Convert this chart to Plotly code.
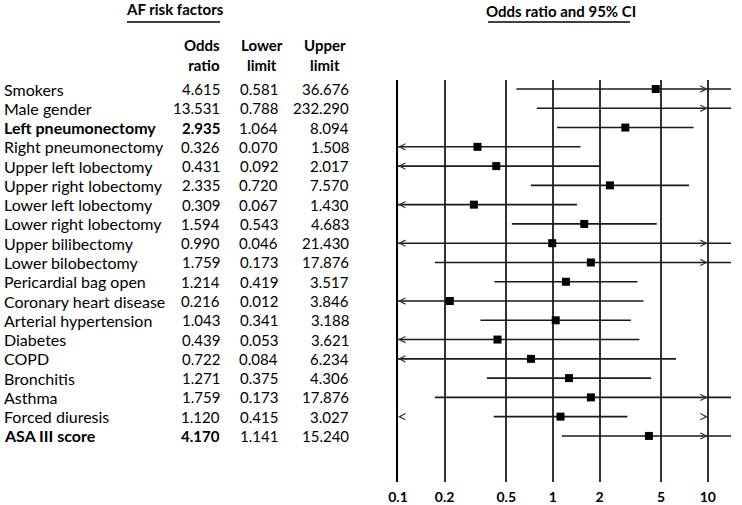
import numpy as np
import plotly.graph_objects as go

# ---------------- data ----------------
factors = ["Smokers", "Male gender", "Left pneumonectomy", "Right pneumonectomy",
           "Upper left lobectomy", "Upper right lobectomy", "Lower left lobectomy",
           "Lower right lobectomy", "Upper bilibectomy", "Lower bilobectomy",
           "Pericardial bag open", "Coronary heart disease", "Arterial hypertension",
           "Diabetes", "COPD", "Bronchitis", "Asthma", "Forced diuresis", "ASA III score"]
odds_ratio = [4.615, 13.531, 2.935, 0.326, 0.431, 2.335, 0.309, 1.594, 0.990, 1.759,
              1.214, 0.216, 1.043, 0.439, 0.722, 1.271, 1.759, 1.120, 4.170]
lower_limit = [0.581, 0.788, 1.064, 0.070, 0.092, 0.720, 0.067, 0.543, 0.046, 0.173,
               0.419, 0.012, 0.341, 0.053, 0.084, 0.375, 0.173, 0.415, 1.141]
upper_limit = [36.676, 232.290, 8.094, 1.508, 2.017, 7.570, 1.430, 4.683, 21.430, 17.876,
               3.517, 3.846, 3.188, 3.621, 6.234, 4.306, 17.876, 3.027, 15.240]
significant = [False, False, True, False, False, False, False, False, False, False,
               False, False, False, False, False, False, False, False, True]
arrow_left = [False, False, False, True, True, False, True, False, True, False,
              False, True, False, True, True, False, False, True, False]
arrow_right = [True, True, False, False, False, False, False, False, True, True,
               False, False, False, False, False, False, True, True, True]
tick_values = [0.1, 0.2, 0.5, 1, 2, 5, 10]
tick_labels = ["0.1", "0.2", "0.5", "1", "2", "5", "10"]
column_headers = ["Odds<br>ratio", "Lower<br>limit", "Upper<br>limit"]

# ---------------- layout constants ----------------
W, H = 742, 505
FONT = "Lato"
FS = 15
n = len(factors)
rows = list(range(n))

def px_x(p):
    return p / W

def px_y(p):
    return 1 - p / H

fig = go.Figure()

# CI lines
lx, ly = [], []
for i in rows:
    lx += [lower_limit[i], upper_limit[i], None]
    ly += [i, i, None]
fig.add_trace(go.Scatter(x=lx, y=ly, mode="lines",
                         line=dict(color="#1a1a1a", width=1.6),
                         hoverinfo="skip", showlegend=False))

# Odds-ratio squares (only those within the labelled axis span)
sx = [odds_ratio[i] for i in rows if odds_ratio[i] <= tick_values[-1]]
sy = [i for i in rows if odds_ratio[i] <= tick_values[-1]]
fig.add_trace(go.Scatter(x=sx, y=sy, mode="markers",
                         marker=dict(symbol="square", color="black", size=8),
                         showlegend=False))

annotations = []
# arrow heads (open chevrons) at 0.1 and 10
for i in rows:
    if arrow_left[i]:
        annotations.append(dict(x=np.log10(tick_values[0]), y=i, xref="x", yref="y",
                                text="", showarrow=True, arrowhead=5, arrowsize=1.1,
                                arrowwidth=1.1, arrowcolor="#333", ax=4, ay=0, standoff=0))
    if arrow_right[i]:
        annotations.append(dict(x=np.log10(tick_values[-1]), y=i, xref="x", yref="y",
                                text="", showarrow=True, arrowhead=5, arrowsize=1.1,
                                arrowwidth=1.1, arrowcolor="#333", ax=-4, ay=0, standoff=0))

# left table
def b(s, flag):
    return f"<b>{s}</b>" if flag else s

for i in rows:
    annotations.append(dict(x=px_x(2), y=i, xref="paper", yref="y", text=b(factors[i], significant[i]),
                            xanchor="left", yanchor="middle", showarrow=False,
                            font=dict(family=FONT, size=16, color="black")))
    annotations.append(dict(x=px_x(222), y=i, xref="paper", yref="y",
                            text=b(f"{odds_ratio[i]:.3f}", significant[i]),
                            xanchor="right", yanchor="middle", showarrow=False,
                            font=dict(family=FONT, size=FS, color="black")))
    annotations.append(dict(x=px_x(280), y=i, xref="paper", yref="y",
                            text=f"{lower_limit[i]:.3f}",
                            xanchor="right", yanchor="middle", showarrow=False,
                            font=dict(family=FONT, size=FS, color="black")))
    annotations.append(dict(x=px_x(351), y=i, xref="paper", yref="y",
                            text=f"{upper_limit[i]:.3f}",
                            xanchor="right", yanchor="middle", showarrow=False,
                            font=dict(family=FONT, size=FS, color="black")))

# column headers
header_pos = [(222, "right"), (262, "center"), (325, "center")]
for txt, (hx, anc) in zip(column_headers, header_pos):
    annotations.append(dict(x=px_x(hx), y=px_y(55), xref="paper", yref="paper",
                            text=f"<b>{txt}</b>", xanchor=anc, yanchor="middle",
                            align=anc, showarrow=False,
                            font=dict(family=FONT, size=15, color="black")))

# panel titles
annotations.append(dict(x=px_x(175), y=px_y(9), xref="paper", yref="paper",
                        text="<b>AF risk factors</b>", xanchor="center", yanchor="middle",
                        showarrow=False, font=dict(family=FONT, size=FS, color="black")))
annotations.append(dict(x=px_x(561), y=px_y(11), xref="paper", yref="paper",
                        text="<b>Odds ratio and 95% CI</b>", xanchor="center", yanchor="middle",
                        showarrow=False, font=dict(family=FONT, size=FS, color="black")))

shapes = [
    dict(type="line", xref="paper", yref="paper", x0=px_x(127), x1=px_x(220),
         y0=px_y(22), y1=px_y(22), line=dict(color="black", width=1.5)),
    dict(type="line", xref="paper", yref="paper", x0=px_x(488), x1=px_x(630),
         y0=px_y(22), y1=px_y(22), line=dict(color="black", width=1.5)),
]

fig.update_layout(
    width=W, height=H,
    margin=dict(l=0, r=0, t=0, b=0),
    paper_bgcolor="white", plot_bgcolor="white",
    annotations=annotations, shapes=shapes,
    showlegend=False,
    xaxis=dict(type="log", range=[-1, 1.15], domain=[px_x(398), px_x(731)],
               tickvals=tick_values, ticktext=tick_labels,
               showgrid=True, gridcolor="#333", gridwidth=1.5,
               showline=False, zeroline=False, automargin=False,
               ticks="outside", ticklen=2, tickcolor="rgba(0,0,0,0)",
               tickfont=dict(family=FONT, size=14, color="black", weight="bold")),
    yaxis=dict(range=[20.39, -0.467], domain=[1 - 482 / H, 1 - 80 / H],
               showgrid=False, zeroline=False, showticklabels=False, automargin=False,
               showline=True, linecolor="black", linewidth=2, ticks=""),
)

fig.write_html("out.html", config={"displayModeBar": False},
               post_script="document.body.style.margin='0';document.body.style.overflow='hidden';")
